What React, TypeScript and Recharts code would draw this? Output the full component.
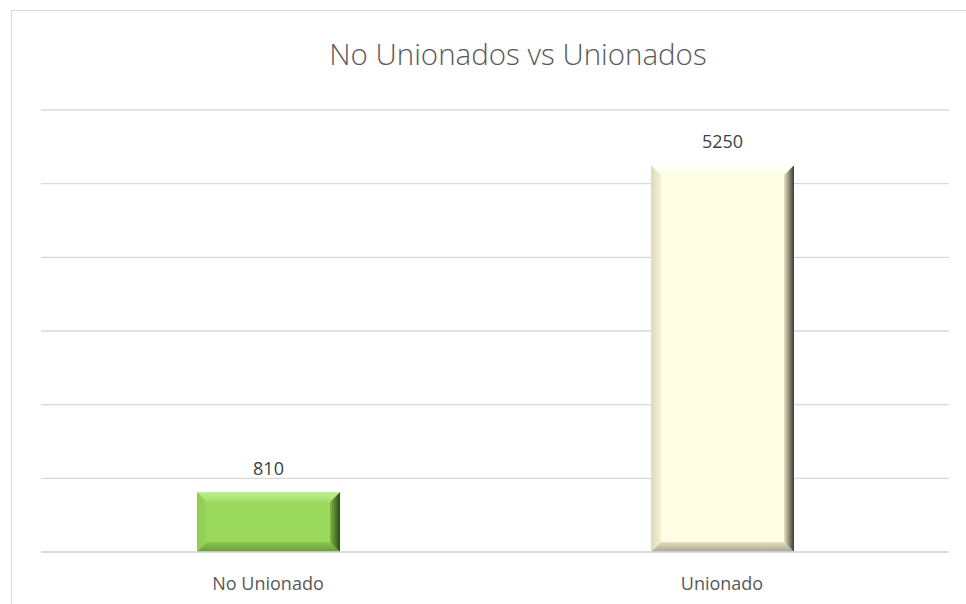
import React from 'react';
import { ComposedChart, Bar, XAxis, YAxis, CartesianGrid, LabelList, Cell } from 'recharts';

const categories = ['No Unionado', 'Unionado'];
const values = [810, 5250];
const yTicks = [0, 1000, 2000, 3000, 4000, 5000, 6000];
const title = 'No Unionados vs Unionados';

const data = categories.map((c, i) => ({ category: c, value: values[i] }));

const palettes = [
  { face: '#9CDA5E', top1: '#BDEE8E', top2: '#A3DE66', left1: '#8DCB52', left2: '#97D65A', right1: '#7DB844', right2: '#2E4A17', bot1: '#8CC453', bot2: '#6A9A3A' },
  { face: '#FFFDE3', top1: '#FFFFF8', top2: '#FFFEEA', left1: '#DEDABA', left2: '#F4F1D4', right1: '#E6E2C2', right2: '#3C3B35', bot1: '#E2DEBF', bot2: '#A9A58D' },
];

const BevelBar = (props: any) => {
  const { x, y, width, height, index } = props;
  if (!width || !height) return null;
  const p = palettes[index % palettes.length];
  const b = Math.min(10, width / 4, height / 4);
  const id = `bev${index}`;
  const w = width, h = height;
  return (
    <g>
      <defs>
        <linearGradient id={`${id}t`} x1="0" y1="0" x2="0" y2="1">
          <stop offset="0" stopColor={p.top1} />
          <stop offset="1" stopColor={p.top2} />
        </linearGradient>
        <linearGradient id={`${id}l`} x1="0" y1="0" x2="1" y2="0">
          <stop offset="0" stopColor={p.left1} />
          <stop offset="1" stopColor={p.left2} />
        </linearGradient>
        <linearGradient id={`${id}r`} x1="0" y1="0" x2="1" y2="0">
          <stop offset="0" stopColor={p.right1} />
          <stop offset="1" stopColor={p.right2} />
        </linearGradient>
        <linearGradient id={`${id}b`} x1="0" y1="0" x2="0" y2="1">
          <stop offset="0" stopColor={p.bot1} />
          <stop offset="1" stopColor={p.bot2} />
        </linearGradient>
      </defs>
      <rect x={x} y={y} width={w} height={h} fill={p.face} />
      <polygon points={`${x},${y} ${x + w},${y} ${x + w - b},${y + b} ${x + b},${y + b}`} fill={`url(#${id}t)`} />
      <polygon points={`${x},${y} ${x + b},${y + b} ${x + b},${y + h - b} ${x},${y + h}`} fill={`url(#${id}l)`} />
      <polygon points={`${x},${y + h} ${x + b},${y + h - b} ${x + w - b},${y + h - b} ${x + w},${y + h}`} fill={`url(#${id}b)`} />
      <polygon points={`${x + w},${y} ${x + w},${y + h} ${x + w - b},${y + h - b} ${x + w - b},${y + b}`} fill={`url(#${id}r)`} />
    </g>
  );
};

export default function App() {
  return (
    <div style={{ position: 'absolute', left: 0, top: 0, width: 966, height: 604, background: '#fff', overflow: 'hidden' }}>
      <div style={{ position: 'absolute', left: 11, top: 10, width: 1000, height: 700, borderTop: '1.5px solid #D9D9D9', borderLeft: '1.5px solid #D9D9D9' }} />
      <div style={{ position: 'absolute', left: 218, width: 600, top: 34, textAlign: 'center', fontFamily: '"Open Sans", sans-serif', fontWeight: 300, fontSize: 29.5, color: '#595959', lineHeight: '40px' }}>
        {title}
      </div>
      <div style={{ position: 'absolute', left: 0, top: 0 }}>
        <ComposedChart width={966} height={604} data={data} margin={{ top: 110, right: 17, left: 41, bottom: 12 }}>
          <CartesianGrid vertical={false} stroke="#D9D9D9" strokeWidth={1.3} />
          <XAxis dataKey="category" axisLine={{ stroke: '#D9D9D9', strokeWidth: 1.3 }} tickLine={false} height={40} tickMargin={19}
            tick={{ fill: '#595959', fontSize: 18, fontFamily: '"Open Sans", sans-serif' }} />
          <YAxis hide width={0} domain={[0, 6000]} ticks={yTicks} />
          <Bar dataKey="value" barSize={143} isAnimationActive={false} shape={<BevelBar />}>
            {data.map((d, i) => <Cell key={d.category} fill={palettes[i].face} />)}
            <LabelList dataKey="value" position="top" offset={17} fill="#404040" fontSize={18} fontFamily='"Open Sans", sans-serif' />
          </Bar>
        </ComposedChart>
      </div>
    </div>
  );
}
